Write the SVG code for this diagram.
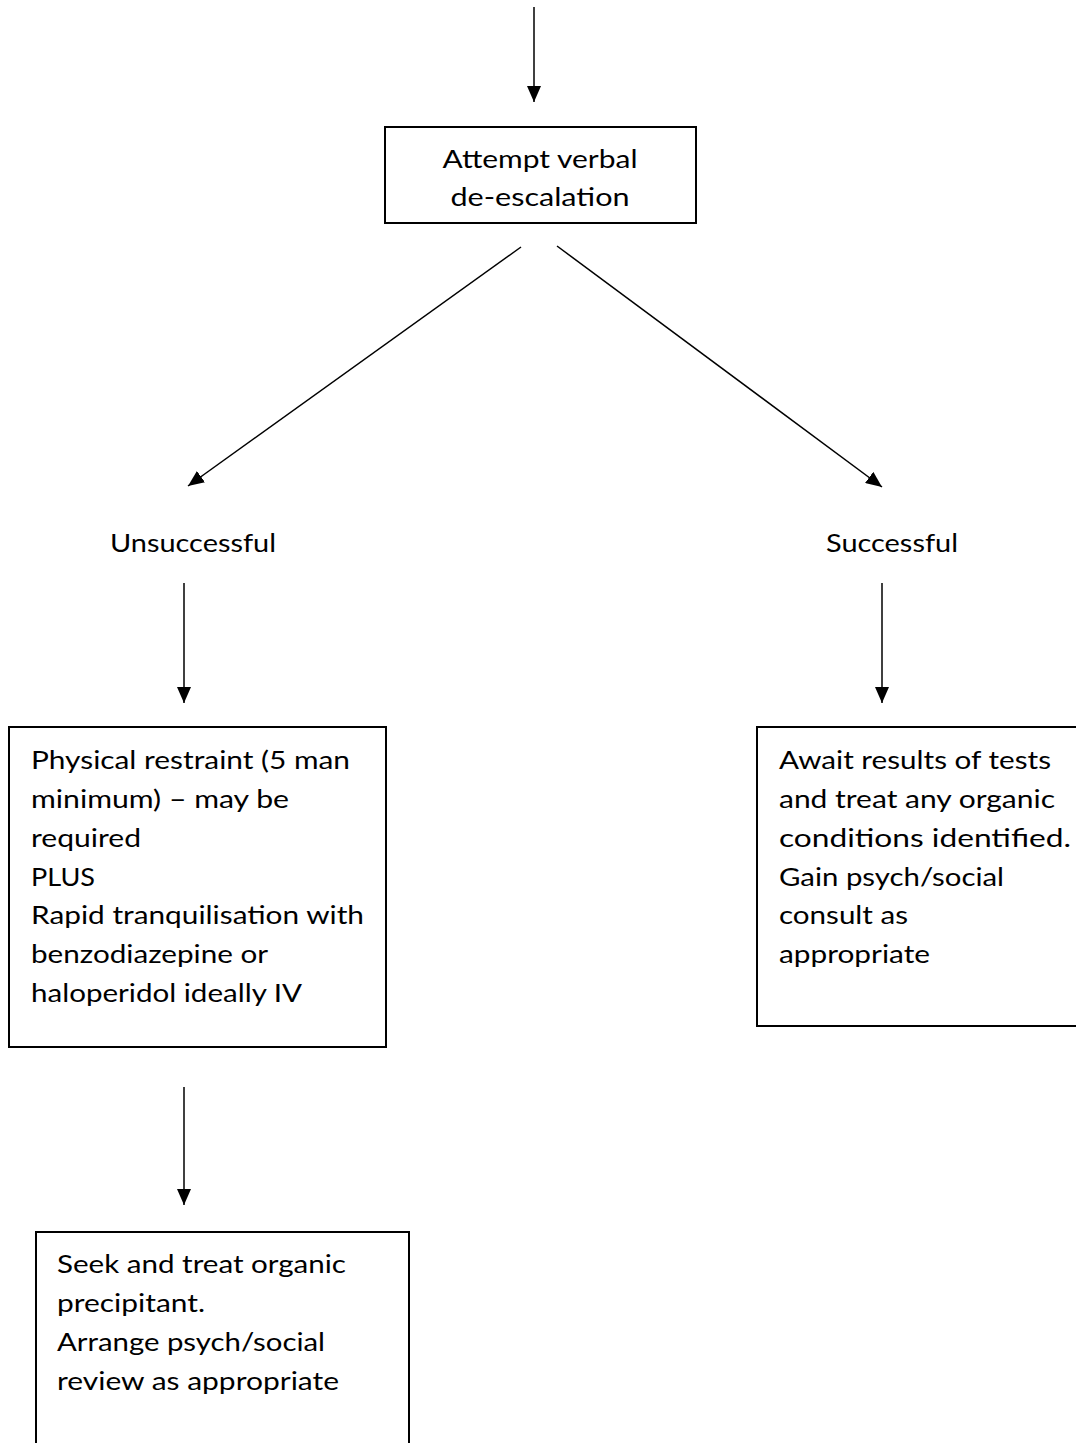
<svg xmlns="http://www.w3.org/2000/svg" width="1076" height="1443" viewBox="0 0 1076 1443">
<style>
.box{fill:#fff;stroke:#000;stroke-width:2}
.t{font-family:Lato,"Open Sans","Liberation Sans",sans-serif;font-size:25px;fill:#000}
.c{text-anchor:middle}
.conn{stroke:#000;stroke-width:1.5;fill:none;marker-end:url(#ah)}
</style>
<defs>
<marker id="ah" markerUnits="userSpaceOnUse" markerWidth="17" markerHeight="14" refX="16" refY="7" orient="auto">
<path d="M0,0 L16,7 L0,14 Z" fill="#000"/>
</marker>
</defs>
<rect width="1076" height="1443" fill="#fff"/>
<g id="connectors">
<line class="conn" x1="534" y1="7" x2="534" y2="102"/>
<line class="conn" x1="521" y1="247" x2="188" y2="486"/>
<line class="conn" x1="557" y1="246" x2="882" y2="487"/>
<line class="conn" x1="184" y1="583" x2="184" y2="703"/>
<line class="conn" x1="882" y1="583" x2="882" y2="703"/>
<line class="conn" x1="184" y1="1087" x2="184" y2="1205"/>
</g>
<g id="node-deescalation">
<rect class="box" x="385" y="127" width="311" height="96"/>
<text class="t c" x="540" y="168" textLength="195" lengthAdjust="spacingAndGlyphs">Attempt verbal</text>
<text class="t c" x="540" y="206" textLength="179" lengthAdjust="spacingAndGlyphs">de-escalation</text>
</g>
<g id="label-unsuccessful">
<text class="t c" x="193" y="552" textLength="166" lengthAdjust="spacingAndGlyphs">Unsuccessful</text>
</g>
<g id="label-successful">
<text class="t c" x="892" y="552" textLength="132" lengthAdjust="spacingAndGlyphs">Successful</text>
</g>
<g id="node-restraint">
<rect class="box" x="9" y="727" width="377" height="320"/>
<text class="t" x="31" y="769" textLength="319" lengthAdjust="spacingAndGlyphs">Physical restraint (5 man</text>
<text class="t" x="31" y="808" textLength="258" lengthAdjust="spacingAndGlyphs">minimum) – may be</text>
<text class="t" x="31" y="847" textLength="110" lengthAdjust="spacingAndGlyphs">required</text>
<text class="t" x="31" y="886" textLength="64" lengthAdjust="spacingAndGlyphs">PLUS</text>
<text class="t" x="31" y="924" textLength="333" lengthAdjust="spacingAndGlyphs">Rapid tranquilisation with</text>
<text class="t" x="31" y="963" textLength="237" lengthAdjust="spacingAndGlyphs">benzodiazepine or</text>
<text class="t" x="31" y="1002" textLength="271" lengthAdjust="spacingAndGlyphs">haloperidol ideally IV</text>
</g>
<g id="node-await">
<rect class="box" x="757" y="727" width="330" height="299"/>
<text class="t" x="779" y="769" textLength="272" lengthAdjust="spacingAndGlyphs">Await results of tests</text>
<text class="t" x="779" y="808" textLength="276" lengthAdjust="spacingAndGlyphs">and treat any organic</text>
<text class="t" x="779" y="847" textLength="292" lengthAdjust="spacingAndGlyphs">conditions identified.</text>
<text class="t" x="779" y="886" textLength="225" lengthAdjust="spacingAndGlyphs">Gain psych/social</text>
<text class="t" x="779" y="924" textLength="129" lengthAdjust="spacingAndGlyphs">consult as</text>
<text class="t" x="779" y="963" textLength="151" lengthAdjust="spacingAndGlyphs">appropriate</text>
</g>
<g id="node-seek">
<rect class="box" x="36" y="1232" width="373" height="230"/>
<text class="t" x="57" y="1273" textLength="289" lengthAdjust="spacingAndGlyphs">Seek and treat organic</text>
<text class="t" x="57" y="1312" textLength="148" lengthAdjust="spacingAndGlyphs">precipitant.</text>
<text class="t" x="57" y="1351" textLength="268" lengthAdjust="spacingAndGlyphs">Arrange psych/social</text>
<text class="t" x="57" y="1390" textLength="282" lengthAdjust="spacingAndGlyphs">review as appropriate</text>
</g>
</svg>
